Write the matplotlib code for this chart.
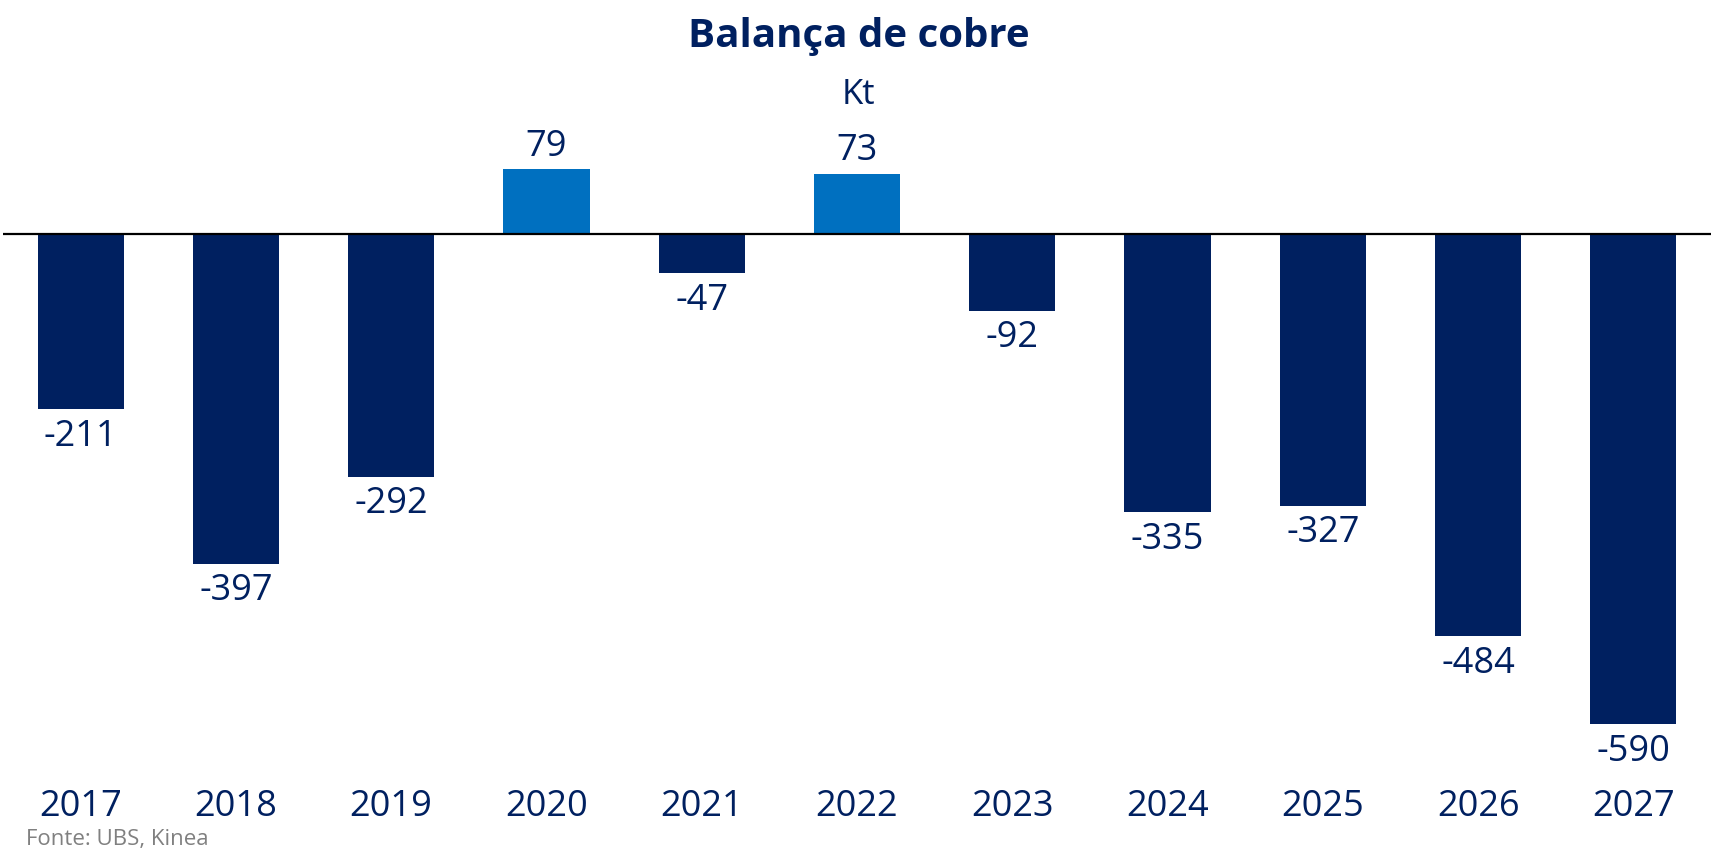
import matplotlib.pyplot as plt

# Data
years = ['2017', '2018', '2019', '2020', '2021', '2022', '2023', '2024', '2025', '2026', '2027']
balance = [-211, -397, -292, 79, -47, 73, -92, -335, -327, -484, -590]

navy = '#002060'
blue = '#0070C0'
colors = [blue if v > 0 else navy for v in balance]

plt.rcParams['font.family'] = ['Open Sans', 'DejaVu Sans']

fig = plt.figure(figsize=(17.17, 8.52), dpi=100)
ax = fig.add_axes([3 / 1717, 0.0921, 1708 / 1717, 0.779])

x = range(len(years))
bars = ax.bar(x, balance, color=colors, width=0.555)
ax.axhline(0, color='black', lw=1.6)

# Value labels
for bar, v in zip(bars, balance):
    cx = bar.get_x() + bar.get_width() / 2
    off = 16 if v > 0 else -20
    ax.annotate(f"{v}", (cx, v), xytext=(0, off), textcoords='offset points',
                ha='center', va='center', fontsize=26, color=navy)

ax.set_xlim(-0.5, 10.5)
ax.set_ylim(-650, 150)
ax.set_xticks(list(x))
ax.set_xticklabels(years, fontsize=26, color=navy)
ax.tick_params(axis='x', length=0, pad=11)
ax.set_yticks([])
for s in ax.spines.values():
    s.set_visible(False)

fig.text(0.5, 1 - 36 / 852, 'Balança de cobre', ha='center', va='center',
         fontsize=29, fontweight='bold', color=navy)
fig.text(0.5, 1 - 95 / 852, 'Kt', ha='center', va='center', fontsize=25, color=navy)
fig.text(26 / 1717, 1 - 839 / 852, 'Fonte: UBS, Kinea', ha='left', va='center',
         fontsize=16, color='#808080')

fig.savefig('out.png', dpi=100)
